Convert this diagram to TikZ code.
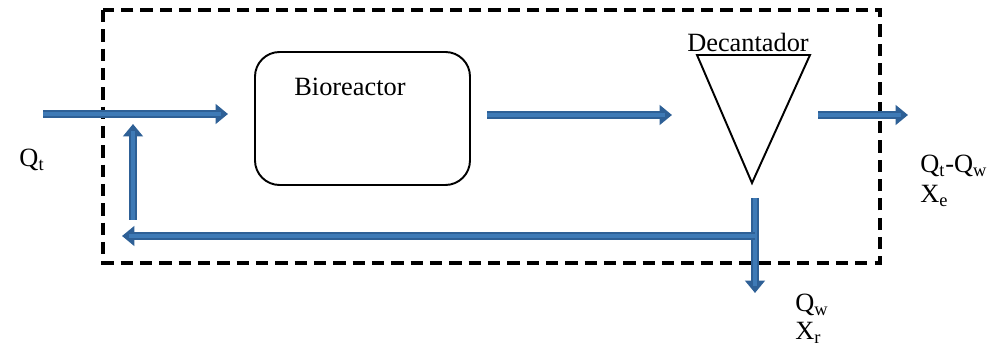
\documentclass[tikz,border=0pt]{standalone}
\usepackage{fontspec}
\setmainfont{Liberation Serif}
\usetikzlibrary{arrows.meta}
\definecolor{flowblue}{RGB}{62,122,182}
\definecolor{flowedge}{RGB}{46,96,150}

\begin{document}
\begin{tikzpicture}[
flow/.style={line width=4.2pt, flowedge, -{Triangle[width=11pt,length=7pt]},
             postaction={draw, flowblue, line width=2pt, shorten >=4pt, -}},
lbl/.style={font=\fontsize{15}{18}\selectfont, inner sep=0pt}]
    \useasboundingbox (0,0) rectangle (19.8,7.02);
    % balance boundary
    \draw [line width=2.2pt, dash pattern=on 7pt off 4pt] (2.06,6.82) rectangle (17.6,1.76);
    % units
    \draw [line width=1.1pt, rounded corners=14pt] (5.1,5.98) rectangle (9.4,3.32);
    \node[lbl] (bio) at (7.0,5.28) {Bioreactor};
    \draw [line width=1.1pt] (13.94,5.92) coordinate (dl) -- (16.2,5.92) coordinate (dr)
          -- (15.04,3.36) coordinate (dec) -- cycle;
    \node[lbl] (declbl) at (14.96,6.18) {Decantador};
    % stream points
    \coordinate (in0) at (0.86,4.74);
    \coordinate (in1) at (4.56,4.74);
    \coordinate (mid0) at (9.74,4.72);
    \coordinate (mid1) at (13.44,4.72);
    \coordinate (out0) at (16.36,4.72);
    \coordinate (out1) at (18.16,4.72);
    \coordinate (wtop) at (15.1,3.06);
    \coordinate (wbot) at (15.1,1.16);
    \coordinate (rec0) at (15.1,2.3);
    \coordinate (rec1) at (2.44,2.3);
    \coordinate (up0) at (2.66,2.62);
    \coordinate (up1) at (2.66,4.54);
    % streams
    \draw [flow] (in0) -- (in1);
    \draw [flow] (mid0) -- (mid1);
    \draw [flow] (out0) -- (out1);
    \draw [flow] (wtop) -- (wbot);
    \draw [flow] (rec0) -- (rec1);
    \draw [flow] (up0) -- (up1);
    % labels
    \node[lbl] (qt) at (0.64,3.82) {Q\textsubscript{t}};
    \node[lbl, anchor=west] (qe) at (18.4,3.7) {Q\textsubscript{t}-Q\textsubscript{w}};
    \node[lbl, anchor=west] (xe) at (18.4,3.1) {X\textsubscript{e}};
    \node[lbl, anchor=west] (qw) at (15.9,0.92) {Q\textsubscript{w}};
    \node[lbl, anchor=west] (xr) at (15.9,0.36) {X\textsubscript{r}};
\end{tikzpicture}
\end{document}
